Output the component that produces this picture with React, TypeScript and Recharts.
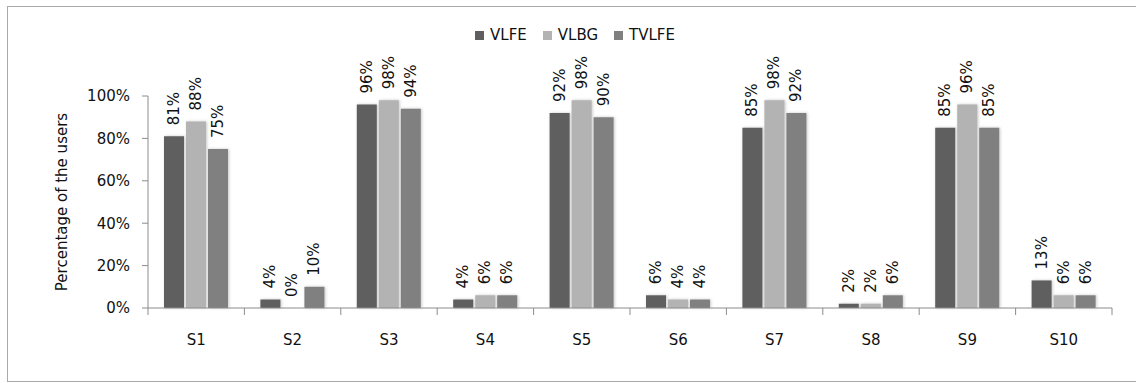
import React from 'react';
import { Bar, BarChart, Legend, XAxis, YAxis } from 'recharts';

const categories = ['S1', 'S2', 'S3', 'S4', 'S5', 'S6', 'S7', 'S8', 'S9', 'S10'];
const vlfe = [81, 4, 96, 4, 92, 6, 85, 2, 85, 13];
const vlbg = [88, 0, 98, 6, 98, 4, 98, 2, 96, 6];
const tvlfe = [75, 10, 94, 6, 90, 4, 92, 6, 85, 6];
const yTicks = [0, 20, 40, 60, 80, 100];

const seriesList = [
	{ key: 'VLFE', color: '#5f5f5f' },
	{ key: 'VLBG', color: '#b3b3b3' },
	{ key: 'TVLFE', color: '#808080' },
];

const data = categories.map((name, i) => ({
	name,
	VLFE: vlfe[i],
	VLBG: vlbg[i],
	TVLFE: tvlfe[i],
}));

const FONT = '"DejaVu Sans", sans-serif';
const AXIS_GRAY = '#8c8c8c';
const TEXT = '#111';

// zero-height bars get dropped together with their labels, so give them a sliver
const keepZeroBars = (value: number) => (value === 0 ? 0.01 : 0);

// category label plus the small tick marks on the band edges
const CategoryTick = (props: any) => {
	const { x, y, payload, index, visibleTicksCount } = props;
	const half = payload && payload.offset ? payload.offset : (props.width || 964) / 20;
	const isLast = index === visibleTicksCount - 1;
	return (
		<g>
			<line x1={x - half} y1={y} x2={x - half} y2={y + 7} stroke={AXIS_GRAY} />
			{isLast && <line x1={x + half} y1={y} x2={x + half} y2={y + 7} stroke={AXIS_GRAY} />}
			<text x={x} y={y + 32} textAnchor='middle' dominantBaseline='central' fill={TEXT} fontSize={15} fontFamily={FONT}>
				{payload.value}
			</text>
		</g>
	);
};

// rotated value printed above each bar
const renderValueLabel = (props: any) => {
	const { x, y, width, value } = props;
	const cx = x + width / 2;
	const ty = y - 11;
	return (
		<text
			key={`${cx}-${ty}`}
			x={cx}
			y={ty}
			transform={`rotate(-90 ${cx} ${ty})`}
			textAnchor='start'
			dominantBaseline='central'
			fill={TEXT}
			fontSize={15}
			fontFamily={FONT}
		>
			{value}%
		</text>
	);
};

const LegendContent = () => (
	<div style={{ display: 'flex', justifyContent: 'center', alignItems: 'center', height: 20 }}>
		{seriesList.map((s) => (
			<span
				key={s.key}
				style={{ display: 'flex', alignItems: 'center', margin: '0 8px', fontFamily: FONT, fontSize: 15, color: TEXT }}
			>
				<span style={{ display: 'inline-block', width: 9, height: 9, background: s.color, marginRight: 6 }} />
				{s.key}
			</span>
		))}
	</div>
);

const App: React.FC = () => {
	return (
		<div
			style={{
				position: 'fixed',
				left: 7,
				top: 6,
				width: 1140,
				height: 376,
				border: '1px solid #a9a9a9',
				boxSizing: 'border-box',
				background: '#fff',
			}}
		>
			<BarChart
				width={1128}
				height={374}
				data={data}
				margin={{ top: 69, right: 24, bottom: 33, left: 0 }}
				barSize={20}
				barGap={2}
			>
				<Legend verticalAlign='top' content={<LegendContent />} wrapperStyle={{ top: 18, left: 0, width: 1134, height: 20 }} />
				<XAxis
					dataKey='name'
					height={40}
					tickLine={false}
					tickSize={0}
					tickMargin={0}
					axisLine={{ stroke: AXIS_GRAY }}
					tick={<CategoryTick />}
					interval={0}
				/>
				<YAxis
					width={140}
					domain={[0, 100]}
					ticks={yTicks}
					tickFormatter={(v: number) => `${v}%`}
					tickSize={6}
					tickMargin={12}
					tickLine={{ stroke: AXIS_GRAY }}
					axisLine={{ stroke: AXIS_GRAY }}
					tick={{ fill: TEXT, fontSize: 15, fontFamily: FONT }}
					label={{
						value: 'Percentage of the users',
						angle: -90,
						position: 'insideLeft',
						offset: 54,
						style: { textAnchor: 'middle', fill: TEXT, fontSize: 15, fontFamily: FONT },
					}}
				/>
				{seriesList.map((s) => (
					<Bar
						key={s.key}
						dataKey={s.key}
						fill={s.color}
						minPointSize={keepZeroBars}
						style={{ filter: 'drop-shadow(1px 0px 1.5px rgba(0,0,0,0.22))' }}
						isAnimationActive={false}
						label={renderValueLabel}
					/>
				))}
			</BarChart>
		</div>
	);
};

export default App;
